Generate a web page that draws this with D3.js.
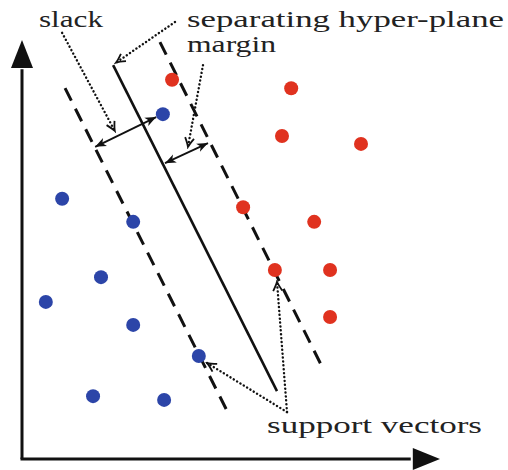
<!DOCTYPE html>
<html><head><meta charset="utf-8">
<script src="https://cdn.jsdelivr.net/npm/d3@7"></script>
<style>html,body{margin:0;padding:0;background:#fff;}svg{display:block;}</style>
</head><body>
<svg id="c" width="508" height="470"></svg>
<script>
// Data (abstract units 0..100 on both axes)
const redX  = [35.9, 64.4, 62.2, 81.1, 52.9, 69.9, 60.5, 73.7, 73.7];
const redY  = [90.5, 88.5, 77.1, 75.2, 60.1, 56.6, 45.1, 45.1, 33.9];
const blueX = [33.7, 9.6, 26.6, 18.9, 5.7, 26.6, 42.3, 17.0, 34.0];
const blueY = [82.3, 62.1, 56.6, 43.4, 37.5, 32.0, 24.6, 15.0, 14.1];
// hyper-plane and margins: [x1, y1, x2, y2]
const planeLine  = [21.8, 94.0, 61.0, 16.2];
const marginLow  = [10.3, 88.5, 49.3, 11.0];
const marginHigh = [33.0, 99.5, 71.8, 22.0];
// double-headed arrows
const slackArrow  = [17.5, 74.5, 32.1, 81.6];
const marginArrow = [34.2, 70.6, 44.5, 75.4];
// dotted leaders
const leaders = [
  [9.6, 101.7, 22.2, 78.3],
  [36.6, 104.3, 22.5, 94.6],
  [43.3, 94.0, 39.7, 74.5],
  [63.4, 11.2, 61.0, 42.3],
  [63.4, 11.2, 44.3, 22.9]
];
const labels = ["slack", "separating hyper-plane", "margin", "support vectors"];

const svg = d3.select("#c");
const x = d3.scaleLinear().domain([0, 100]).range([22, 440]);
const y = d3.scaleLinear().domain([0, 100]).range([459, 40]);

const defs = svg.append("defs");
defs.append("marker").attr("id","solid").attr("viewBox","-12 -6 14 12")
  .attr("refX",0).attr("refY",0).attr("markerWidth",14).attr("markerHeight",12)
  .attr("markerUnits","userSpaceOnUse").attr("orient","auto-start-reverse")
  .append("path").attr("d","M-11,-4.5 L0,0 L-11,4.5 L-8,0 Z").attr("fill","#111");
defs.append("marker").attr("id","open").attr("viewBox","-12 -6 14 12")
  .attr("refX",0).attr("refY",0).attr("markerWidth",14).attr("markerHeight",12)
  .attr("markerUnits","userSpaceOnUse").attr("orient","auto")
  .append("path").attr("d","M-9,-4.5 Q-3,-1 0,0 Q-3,1 -9,4.5")
  .attr("fill","none").attr("stroke","#111").attr("stroke-width",1.8);

// axes
svg.append("line").attr("x1",x(0)).attr("y1",y(0)).attr("x2",x(0)).attr("y2",y(93))
  .attr("stroke","#111").attr("stroke-width",3);
svg.append("line").attr("x1",x(0)-1.5).attr("y1",y(0)).attr("x2",x(93)).attr("y2",y(0))
  .attr("stroke","#111").attr("stroke-width",3);
svg.append("path").attr("d",`M${x(0)},${y(100)} L${x(0)-11},${y(93.3)} L${x(0)+11},${y(93.3)} Z`).attr("fill","#111");
svg.append("path").attr("d",`M${x(100)},${y(0)} L${x(93.5)},${y(0)-11} L${x(93.5)},${y(0)+11} Z`).attr("fill","#111");

function seg(a){ return svg.append("line").attr("x1",x(a[0])).attr("y1",y(a[1])).attr("x2",x(a[2])).attr("y2",y(a[3])); }
seg(planeLine).attr("stroke","#111").attr("stroke-width",2.6);
seg(marginLow).attr("stroke","#111").attr("stroke-width",3).attr("stroke-dasharray","14,9");
seg(marginHigh).attr("stroke","#111").attr("stroke-width",3).attr("stroke-dasharray","14,9");

// points
svg.selectAll(".r").data(redX.map((v,i)=>[v,redY[i]])).enter().append("circle")
  .attr("cx",d=>x(d[0])).attr("cy",d=>y(d[1])).attr("r",7).attr("fill","#e0321f");
svg.selectAll(".b").data(blueX.map((v,i)=>[v,blueY[i]])).enter().append("circle")
  .attr("cx",d=>x(d[0])).attr("cy",d=>y(d[1])).attr("r",7).attr("fill","#2c45a8");

seg(slackArrow).attr("stroke","#111").attr("stroke-width",1.8)
  .attr("marker-start","url(#solid)").attr("marker-end","url(#solid)");
seg(marginArrow).attr("stroke","#111").attr("stroke-width",1.8)
  .attr("marker-start","url(#solid)").attr("marker-end","url(#solid)");

leaders.forEach(a=>{
  seg(a).attr("stroke","#111").attr("stroke-width",2.4).attr("stroke-linecap","round")
    .attr("stroke-dasharray","0.1,3.8").attr("marker-end","url(#open)");
});

const tpos = [[39,27,64],[187,27,317],[187,52,89],[267,433,215]];
labels.forEach((t,i)=>{
  svg.append("text").attr("x",tpos[i][0]).attr("y",tpos[i][1]).text(t)
    .attr("font-family","Liberation Serif").attr("font-size",23).attr("fill","#222")
    .attr("textLength",tpos[i][2]).attr("lengthAdjust","spacingAndGlyphs");
});
</script>
</body></html>
